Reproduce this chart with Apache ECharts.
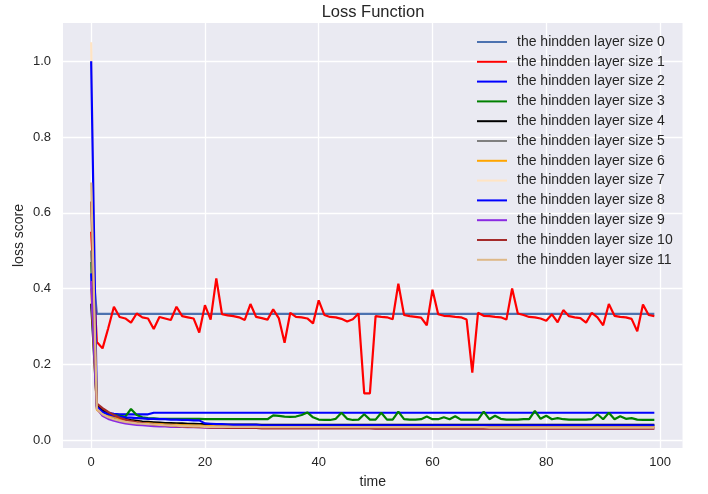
<!DOCTYPE html>
<html>
<head>
<meta charset="utf-8">
<script src="https://cdn.jsdelivr.net/npm/echarts@6/dist/echarts.min.js"></script>
<style>
html,body{margin:0;padding:0;background:#fff;}
#chart{width:708px;height:494px;}
</style>
</head>
<body>
<div id="chart"></div>
<script>
const time = Array.from({length: 100}, (_, i) => i);
const xTicks = [0, 20, 40, 60, 80, 100];
const yTicks = [0.0, 0.2, 0.4, 0.6, 0.8, 1.0];
const seriesNames = [
  'the hindden layer size 0','the hindden layer size 1','the hindden layer size 2',
  'the hindden layer size 3','the hindden layer size 4','the hindden layer size 5',
  'the hindden layer size 6','the hindden layer size 7','the hindden layer size 8',
  'the hindden layer size 9','the hindden layer size 10','the hindden layer size 11'
];

const size0 = [
 0.500,0.333,0.333,0.333,0.333,0.333,0.333,0.333,0.333,0.333,
 0.333,0.333,0.333,0.333,0.333,0.333,0.333,0.333,0.333,0.333,
 0.333,0.333,0.333,0.333,0.333,0.333,0.333,0.333,0.333,0.333,
 0.333,0.333,0.333,0.333,0.333,0.333,0.333,0.333,0.333,0.333,
 0.333,0.333,0.333,0.333,0.333,0.333,0.333,0.333,0.333,0.333,
 0.333,0.333,0.333,0.333,0.333,0.333,0.333,0.333,0.333,0.333,
 0.333,0.333,0.333,0.333,0.333,0.333,0.333,0.333,0.333,0.333,
 0.333,0.333,0.333,0.333,0.333,0.333,0.333,0.333,0.333,0.333,
 0.333,0.333,0.333,0.333,0.333,0.333,0.333,0.333,0.333,0.333,
 0.333,0.333,0.333,0.333,0.333,0.333,0.333,0.333,0.333,0.333
];
const size1 = [
 0.550,0.259,0.242,0.295,0.352,0.325,0.321,0.310,0.334,0.324,
 0.321,0.293,0.325,0.321,0.317,0.352,0.327,0.324,0.321,0.284,
 0.356,0.318,0.427,0.332,0.329,0.327,0.324,0.317,0.359,0.325,
 0.322,0.318,0.345,0.321,0.257,0.336,0.325,0.324,0.321,0.308,
 0.369,0.330,0.325,0.324,0.320,0.313,0.319,0.334,0.123,0.123,
 0.327,0.325,0.324,0.319,0.413,0.330,0.327,0.325,0.323,0.303,
 0.397,0.332,0.328,0.327,0.325,0.324,0.318,0.178,0.336,0.328,
 0.327,0.325,0.324,0.318,0.400,0.334,0.330,0.325,0.324,0.321,
 0.315,0.332,0.311,0.343,0.327,0.324,0.322,0.310,0.336,0.324,
 0.303,0.359,0.328,0.325,0.324,0.320,0.287,0.358,0.330,0.327
];
const size2 = [
 1.000,0.090,0.078,0.072,0.069,0.068,0.068,0.068,0.068,0.068,
 0.068,0.072,0.072,0.072,0.072,0.072,0.072,0.072,0.072,0.072,
 0.072,0.072,0.072,0.072,0.072,0.072,0.072,0.072,0.072,0.072,
 0.072,0.072,0.072,0.072,0.072,0.072,0.072,0.072,0.072,0.072,
 0.072,0.072,0.072,0.072,0.072,0.072,0.072,0.072,0.072,0.072,
 0.072,0.072,0.072,0.072,0.072,0.072,0.072,0.072,0.072,0.072,
 0.072,0.072,0.072,0.072,0.072,0.072,0.072,0.072,0.072,0.072,
 0.072,0.072,0.072,0.072,0.072,0.072,0.072,0.072,0.072,0.072,
 0.072,0.072,0.072,0.072,0.072,0.072,0.072,0.072,0.072,0.072,
 0.072,0.072,0.072,0.072,0.072,0.072,0.072,0.072,0.072,0.072
];
const size3 = [
 0.470,0.095,0.078,0.070,0.066,0.064,0.062,0.082,0.066,0.060,
 0.058,0.057,0.056,0.056,0.056,0.056,0.056,0.056,0.056,0.056,
 0.055,0.055,0.055,0.055,0.055,0.055,0.055,0.055,0.055,0.055,
 0.055,0.055,0.065,0.064,0.062,0.061,0.062,0.066,0.073,0.060,
 0.054,0.053,0.053,0.056,0.072,0.056,0.053,0.054,0.068,0.054,
 0.054,0.072,0.054,0.054,0.075,0.055,0.054,0.054,0.055,0.062,
 0.055,0.055,0.060,0.055,0.063,0.054,0.054,0.054,0.054,0.075,
 0.055,0.064,0.056,0.054,0.054,0.054,0.055,0.055,0.077,0.056,
 0.064,0.055,0.058,0.055,0.054,0.054,0.054,0.054,0.055,0.068,
 0.055,0.072,0.055,0.063,0.056,0.058,0.054,0.053,0.053,0.053
];
const size4 = [
 0.360,0.092,0.078,0.069,0.063,0.059,0.056,0.053,0.051,0.049,
 0.048,0.047,0.046,0.045,0.045,0.044,0.044,0.043,0.043,0.042,
 0.042,0.042,0.041,0.041,0.041,0.041,0.041,0.041,0.041,0.041,
 0.040,0.040,0.040,0.040,0.040,0.040,0.040,0.040,0.040,0.040,
 0.040,0.040,0.040,0.040,0.040,0.040,0.040,0.040,0.040,0.040,
 0.040,0.040,0.040,0.040,0.040,0.040,0.040,0.040,0.040,0.040,
 0.040,0.040,0.040,0.040,0.040,0.040,0.040,0.040,0.040,0.040,
 0.040,0.040,0.040,0.040,0.040,0.040,0.040,0.040,0.040,0.040,
 0.040,0.040,0.040,0.040,0.040,0.040,0.040,0.040,0.040,0.040,
 0.040,0.040,0.040,0.040,0.040,0.040,0.040,0.040,0.040,0.040
];
const size5 = [
 0.500,0.086,0.071,0.063,0.057,0.053,0.050,0.048,0.046,0.044,
 0.043,0.042,0.041,0.040,0.040,0.039,0.039,0.038,0.038,0.038,
 0.037,0.037,0.037,0.037,0.037,0.037,0.037,0.037,0.037,0.037,
 0.037,0.037,0.037,0.037,0.037,0.037,0.037,0.037,0.037,0.037,
 0.036,0.036,0.036,0.036,0.036,0.036,0.036,0.036,0.036,0.036,
 0.036,0.036,0.036,0.036,0.036,0.036,0.036,0.036,0.036,0.036,
 0.036,0.036,0.036,0.036,0.036,0.036,0.036,0.036,0.036,0.036,
 0.036,0.036,0.036,0.036,0.036,0.036,0.036,0.036,0.036,0.036,
 0.036,0.036,0.036,0.036,0.036,0.036,0.036,0.036,0.036,0.036,
 0.036,0.036,0.036,0.036,0.036,0.036,0.036,0.036,0.036,0.036
];
const size6 = [
 0.400,0.080,0.068,0.064,0.062,0.056,0.052,0.049,0.047,0.045,
 0.044,0.043,0.042,0.041,0.040,0.040,0.039,0.039,0.038,0.038,
 0.037,0.037,0.037,0.036,0.036,0.036,0.036,0.036,0.036,0.036,
 0.036,0.036,0.036,0.036,0.036,0.036,0.036,0.036,0.036,0.036,
 0.035,0.035,0.035,0.035,0.035,0.035,0.035,0.035,0.035,0.035,
 0.035,0.035,0.035,0.035,0.035,0.035,0.035,0.035,0.035,0.035,
 0.035,0.035,0.035,0.035,0.035,0.035,0.035,0.035,0.035,0.035,
 0.035,0.035,0.035,0.035,0.035,0.035,0.035,0.035,0.035,0.035,
 0.035,0.035,0.035,0.035,0.035,0.035,0.035,0.035,0.035,0.035,
 0.035,0.035,0.035,0.035,0.035,0.035,0.035,0.035,0.035,0.035
];
const size7 = [
 1.050,0.085,0.070,0.062,0.057,0.053,0.050,0.048,0.046,0.044,
 0.043,0.042,0.041,0.040,0.039,0.039,0.038,0.038,0.037,0.037,
 0.036,0.036,0.036,0.036,0.036,0.036,0.036,0.036,0.036,0.036,
 0.036,0.036,0.036,0.036,0.036,0.036,0.036,0.036,0.036,0.036,
 0.035,0.035,0.035,0.035,0.035,0.035,0.035,0.035,0.035,0.035,
 0.035,0.035,0.035,0.035,0.035,0.035,0.035,0.035,0.035,0.035,
 0.035,0.035,0.035,0.035,0.035,0.035,0.035,0.035,0.035,0.035,
 0.035,0.035,0.035,0.035,0.035,0.035,0.035,0.035,0.035,0.035,
 0.035,0.035,0.035,0.035,0.035,0.035,0.035,0.035,0.035,0.035,
 0.035,0.035,0.035,0.035,0.035,0.035,0.035,0.035,0.035,0.035
];
const size8 = [
 0.440,0.088,0.074,0.068,0.064,0.062,0.060,0.059,0.058,0.057,
 0.056,0.056,0.055,0.055,0.054,0.054,0.053,0.053,0.052,0.052,
 0.044,0.043,0.042,0.042,0.041,0.040,0.040,0.040,0.040,0.040,
 0.039,0.039,0.039,0.039,0.039,0.039,0.039,0.039,0.039,0.039,
 0.039,0.039,0.039,0.039,0.039,0.039,0.039,0.039,0.039,0.039,
 0.039,0.039,0.039,0.039,0.039,0.039,0.039,0.039,0.039,0.039,
 0.039,0.039,0.039,0.039,0.039,0.039,0.039,0.039,0.039,0.039,
 0.039,0.039,0.039,0.039,0.039,0.039,0.039,0.039,0.039,0.039,
 0.039,0.039,0.039,0.039,0.039,0.039,0.039,0.039,0.039,0.039,
 0.039,0.039,0.039,0.039,0.039,0.039,0.039,0.039,0.039,0.039
];
const size9 = [
 0.420,0.084,0.064,0.056,0.051,0.047,0.044,0.042,0.040,0.039,
 0.038,0.037,0.036,0.036,0.035,0.035,0.035,0.034,0.034,0.034,
 0.033,0.033,0.033,0.033,0.033,0.033,0.033,0.033,0.033,0.033,
 0.032,0.032,0.032,0.032,0.032,0.032,0.032,0.032,0.032,0.032,
 0.032,0.032,0.032,0.032,0.032,0.032,0.032,0.032,0.032,0.032,
 0.031,0.031,0.031,0.031,0.031,0.031,0.031,0.031,0.031,0.031,
 0.031,0.031,0.031,0.031,0.031,0.031,0.031,0.031,0.031,0.031,
 0.031,0.031,0.031,0.031,0.031,0.031,0.031,0.031,0.031,0.031,
 0.031,0.031,0.031,0.031,0.031,0.031,0.031,0.031,0.031,0.031,
 0.031,0.031,0.031,0.031,0.031,0.031,0.031,0.031,0.031,0.031
];
const size10 = [
 0.630,0.096,0.084,0.074,0.066,0.059,0.054,0.050,0.047,0.045,
 0.043,0.041,0.040,0.039,0.038,0.037,0.036,0.035,0.035,0.034,
 0.034,0.033,0.033,0.033,0.032,0.032,0.032,0.032,0.032,0.032,
 0.031,0.031,0.031,0.031,0.031,0.031,0.031,0.031,0.031,0.031,
 0.031,0.031,0.031,0.031,0.031,0.031,0.031,0.031,0.031,0.031,
 0.030,0.030,0.030,0.030,0.030,0.030,0.030,0.030,0.030,0.030,
 0.030,0.030,0.030,0.030,0.030,0.030,0.030,0.030,0.030,0.030,
 0.030,0.030,0.030,0.030,0.030,0.030,0.030,0.030,0.030,0.030,
 0.030,0.030,0.030,0.030,0.030,0.030,0.030,0.030,0.030,0.030,
 0.030,0.030,0.030,0.030,0.030,0.030,0.030,0.030,0.030,0.030
];
const size11 = [
 0.680,0.082,0.068,0.060,0.055,0.051,0.048,0.046,0.044,0.043,
 0.042,0.041,0.040,0.039,0.038,0.038,0.037,0.037,0.036,0.036,
 0.035,0.035,0.035,0.035,0.035,0.035,0.035,0.035,0.035,0.035,
 0.034,0.034,0.034,0.034,0.034,0.034,0.034,0.034,0.034,0.034,
 0.034,0.034,0.034,0.034,0.034,0.034,0.034,0.034,0.034,0.034,
 0.034,0.034,0.034,0.034,0.034,0.034,0.034,0.034,0.034,0.034,
 0.034,0.034,0.034,0.034,0.034,0.034,0.034,0.034,0.034,0.034,
 0.033,0.033,0.033,0.033,0.033,0.033,0.033,0.033,0.033,0.033,
 0.033,0.033,0.033,0.033,0.033,0.033,0.033,0.033,0.033,0.033,
 0.033,0.033,0.033,0.033,0.033,0.033,0.033,0.033,0.033,0.033
];

const allValues = [size0,size1,size2,size3,size4,size5,size6,size7,size8,size9,size10,size11];
const colors = ['#4C72B0','#FF0000','#0000FF','#008000','#000000','#808080',
                '#FFA500','#FFE4C4','#0000FF','#8A2BE2','#A52A2A','#DEB887'];

const chart = echarts.init(document.getElementById('chart'), null, {renderer: 'canvas'});
const txt = '#262626';
const font = 'Liberation Sans, Arial, sans-serif';

const option = {
  animation: false,
  backgroundColor: '#ffffff',
  textStyle: {fontFamily: font},
  title: {
    text: 'Loss Function',
    left: 373, top: 4, textAlign: 'center', padding: 0,
    textStyle: {fontSize: 16.5, fontWeight: 'normal', color: txt, fontFamily: font}
  },
  grid: {
    left: 63, right: 25.5, top: 23, bottom: 46,
    show: true, backgroundColor: '#EAEAF2', borderWidth: 0
  },
  legend: {
    orient: 'vertical', left: 476, top: 35, padding: 0,
    itemWidth: 30, itemHeight: 14, itemGap: 5.8,
    itemStyle: {opacity: 0},
    textStyle: {fontSize: 14, color: txt, fontFamily: font, padding: [0,0,0,5]},
    data: seriesNames
  },
  xAxis: {
    type: 'value', min: -4.95, max: 103.95,
    name: 'time', nameLocation: 'middle', nameGap: 27,
    nameTextStyle: {fontSize: 14, color: txt, fontFamily: font},
    axisLine: {show: false},
    axisTick: {show: false, customValues: xTicks},
    axisLabel: {customValues: xTicks, color: txt, fontSize: 13, margin: 8, fontFamily: font},
    splitLine: {show: true, lineStyle: {color: '#ffffff', width: 1.3}}
  },
  yAxis: {
    type: 'value', min: -0.021, max: 1.101,
    name: 'loss score', nameLocation: 'middle', nameGap: 37, nameRotate: 90,
    nameMoveOverlap: false,
    nameTextStyle: {fontSize: 14, color: txt, fontFamily: font},
    axisLine: {show: false},
    axisTick: {show: false, customValues: yTicks},
    axisLabel: {customValues: yTicks, color: txt, fontSize: 13, margin: 12, fontFamily: font,
      formatter: v => v.toFixed(1)},
    splitLine: {show: true, lineStyle: {color: '#ffffff', width: 1.3}}
  },
  series: allValues.map((vals, k) => ({
    name: seriesNames[k],
    type: 'line',
    symbol: 'none',
    z: k === 7 ? 1 : 2,
    data: time.map((t, i) => [t, vals[i]]),
    lineStyle: {color: colors[k], width: 2.2},
    itemStyle: {color: colors[k]},
    emphasis: {disabled: true}
  }))
};
chart.setOption(option);
</script>
</body>
</html>
